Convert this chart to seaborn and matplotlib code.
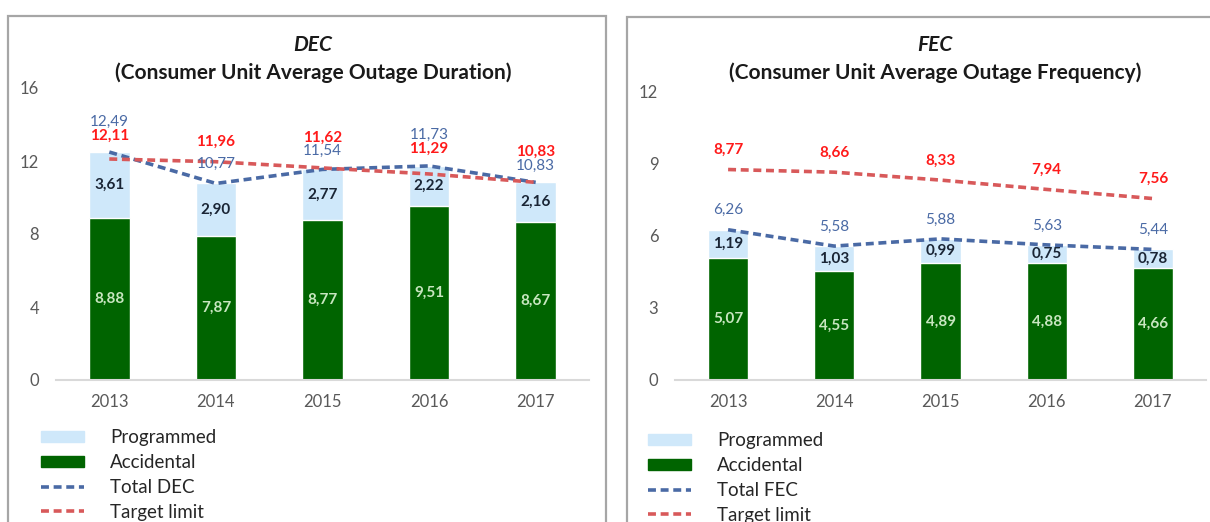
import numpy as np
import pandas as pd
import matplotlib
matplotlib.use("Agg")
import matplotlib.pyplot as plt
import seaborn as sns
from matplotlib.patches import Patch, Rectangle
from matplotlib.lines import Line2D

# data
years = ["2013", "2014", "2015", "2016", "2017"]

dec_accidental = [8.88, 7.87, 8.77, 9.51, 8.67]
dec_programmed = [3.61, 2.90, 2.77, 2.22, 2.16]
dec_total = [12.49, 10.77, 11.54, 11.73, 10.83]
dec_target = [12.11, 11.96, 11.62, 11.29, 10.83]

fec_accidental = [5.07, 4.55, 4.89, 4.88, 4.66]
fec_programmed = [1.19, 1.03, 0.99, 0.75, 0.78]
fec_total = [6.26, 5.58, 5.88, 5.63, 5.44]
fec_target = [8.77, 8.66, 8.33, 7.94, 7.56]

C_PROG = "#cfe8fa"
C_ACC = "#006400"
C_TOTAL = "#4a6aa5"
C_TARGET = "#d8595a"
DASH = (0, (2.2, 1.3))

sns.set_theme(style="white")
plt.rcParams['font.family'] = ['Lato', 'DejaVu Sans']

W, H = 1210, 522
fig = plt.figure(figsize=(W / 100, H / 100), dpi=100)


def px_axes(left, right, y0, ytop):
    return fig.add_axes([left / W, 1 - y0 / H, (right - left) / W, (y0 - ytop) / H])


def fmt(v):
    return f"{v:.2f}".replace(".", ",")


def draw_panel(ax, acc, prog, total, target, ymax, step):
    df = pd.DataFrame({"year": years, "acc": acc, "stack": np.add(acc, prog)})
    sns.barplot(data=df, x="year", y="stack", color=C_PROG, width=0.38,
                saturation=1, ax=ax)
    sns.barplot(data=df, x="year", y="acc", color=C_ACC, width=0.38,
                saturation=1, ax=ax)
    xs = np.arange(len(years))
    sns.lineplot(x=xs, y=total, color=C_TOTAL, lw=2.6, linestyle=DASH, ax=ax)
    sns.lineplot(x=xs, y=target, color=C_TARGET, lw=2.6, linestyle=DASH, ax=ax)

    for i in xs:
        ax.text(i, acc[i] / 2, fmt(acc[i]), ha="center", va="center",
                color="#c8e6c0", fontsize=11, fontweight="bold")
        ax.text(i, acc[i] + prog[i] / 2, fmt(prog[i]), ha="center", va="center",
                color="#1a2535", fontsize=11, fontweight="bold")
        top = max(total[i], target[i])
        if abs(total[i] - target[i]) < 0.8:
            # labels stacked above the higher of the two lines
            hi_t = total[i] > target[i]
            off_tot = 22 if hi_t else 12
            off_tar = 12 if hi_t else 22
            y_tot = y_tar = top
        else:
            off_tot = off_tar = 14
            y_tot, y_tar = total[i], target[i]
        ax.annotate(fmt(total[i]), (i, y_tot), xytext=(0, off_tot),
                    textcoords="offset points", ha="center", va="center",
                    color=C_TOTAL, fontsize=11)
        ax.annotate(fmt(target[i]), (i, y_tar), xytext=(0, off_tar),
                    textcoords="offset points", ha="center", va="center",
                    color="#ff1a1a", fontsize=11, fontweight="bold")

    ax.set_xlim(-0.5, len(years) - 0.5)
    ax.set_ylim(0, ymax)
    ax.set_yticks(np.arange(0, ymax + 0.1, step))
    ax.set_xticks(xs)
    ax.set_xticklabels(years)
    ax.set_xlabel("")
    ax.set_ylabel("")
    for s in ["top", "right", "left"]:
        ax.spines[s].set_visible(False)
    ax.spines["bottom"].set_color("#d9d9d9")
    ax.spines["bottom"].set_linewidth(1.5)
    ax.tick_params(axis="both", length=0, labelcolor="#595959", labelsize=12)
    ax.tick_params(axis="y", pad=12)
    ax.tick_params(axis="x", pad=10)
    ax.set_facecolor("none")


ax1 = px_axes(56, 589, 380, 88)
draw_panel(ax1, dec_accidental, dec_programmed, dec_total, dec_target, 16, 4)
ax2 = px_axes(675, 1206, 380, 92)
draw_panel(ax2, fec_accidental, fec_programmed, fec_total, fec_target, 12, 3)

# titles
for cx, name, sub in [(313, "DEC", "(Consumer Unit Average Outage Duration)"),
                      (935, "FEC", "(Consumer Unit Average Outage Frequency)")]:
    fig.text(cx / W, 1 - 45 / H, name, ha="center", va="center", fontsize=15,
             fontweight="bold", fontstyle="italic", color="#1a1a1a")
    fig.text(cx / W, 1 - 73 / H, sub, ha="center", va="center", fontsize=15,
             fontweight="bold", color="#1a1a1a")

# panel borders
fig.add_artist(Rectangle((8 / W, -0.1), (606 - 8) / W, 1 - 16 / H + 0.1,
                         transform=fig.transFigure, fill=False, ec="#a6a6a6", lw=1.6))
fig.add_artist(Rectangle((627 / W, -0.1), 1.0, 1 - 17 / H + 0.1,
                         transform=fig.transFigure, fill=False, ec="#a6a6a6", lw=1.6))

# legends
for lx, ly, tot_name in [(41, 429, "Total DEC"), (648, 432, "Total FEC")]:
    handles = [Patch(color=C_PROG), Patch(color=C_ACC),
               Line2D([], [], color=C_TOTAL, lw=2.6, linestyle=DASH),
               Line2D([], [], color=C_TARGET, lw=2.6, linestyle=DASH)]
    labels = ["Programmed", "Accidental", tot_name, "Target limit"]
    fig.legend(handles, labels, loc="upper left",
               bbox_to_anchor=(lx / W, 1 - ly / H), frameon=False, fontsize=13.5,
               handlelength=2.3, handletextpad=1.4, labelspacing=0.42,
               handleheight=0.55, borderpad=0, borderaxespad=0)

fig.savefig("out.png", dpi=100)
